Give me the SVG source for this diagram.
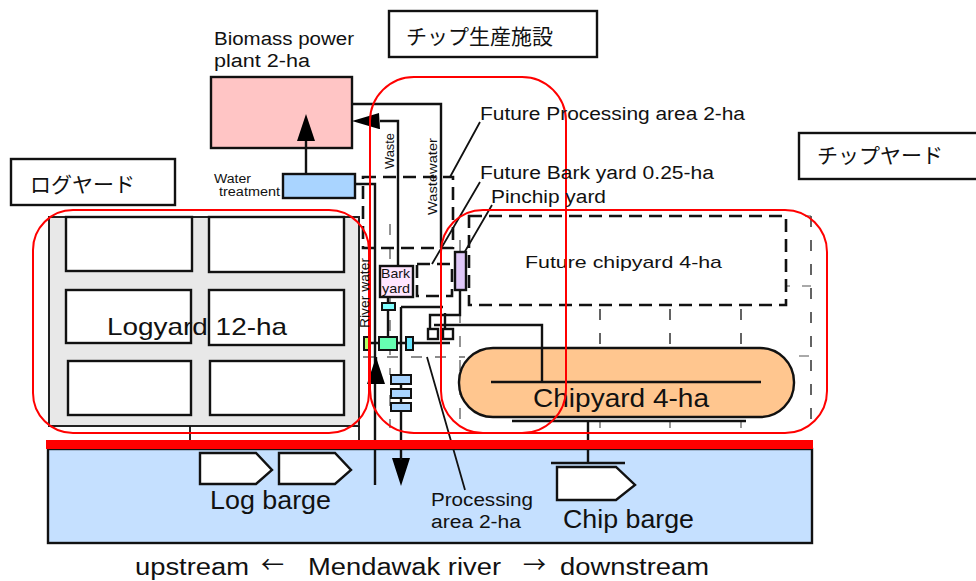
<svg xmlns="http://www.w3.org/2000/svg" width="976" height="581" viewBox="0 0 976 581">
<style>
text{font-family:"Liberation Sans","Noto Sans CJK JP",sans-serif;fill:#111}
.jp{font-family:"Noto Sans CJK JP",sans-serif;font-size:21px}
.ar{font-family:"Noto Sans CJK JP",sans-serif}
.b{fill:#fff;stroke:#111;stroke-width:2.4}
.l{fill:none;stroke:#111;stroke-width:2.4}
.t{fill:none;stroke:#111;stroke-width:1.8}
.d{fill:none;stroke:#111;stroke-width:2.6;stroke-dasharray:13 7}
.g{fill:none;stroke:#666;stroke-width:1.4;stroke-dasharray:11 13}
.k{fill:none;stroke:#222;stroke-width:1.4;stroke-dasharray:11 13}
.s{fill:none;stroke:#555;stroke-width:1.2}
.r{fill:none;stroke:#f00;stroke-width:2}
.a{fill:#000;stroke:none}
</style>
<g id="river"><rect x="48" y="449" width="764" height="94" fill="#c5e0ff" stroke="#111" stroke-width="2.4"/></g>
<g id="logyard">
<rect x="49" y="217" width="310" height="209" fill="#e8e8e8" stroke="#222" stroke-width="2"/>
<rect class="b" x="66" y="217" width="126" height="54"/>
<rect class="b" x="209" y="217" width="135" height="55"/>
<rect class="b" x="66" y="290" width="125" height="53"/>
<rect class="b" x="209" y="290" width="135" height="55"/>
<rect class="b" x="68" y="361" width="123" height="54"/>
<rect class="b" x="210" y="361" width="134" height="54"/>
<text x="107" y="335" font-size="24" textLength="180" lengthAdjust="spacingAndGlyphs">Logyard 12-ha</text>
</g>
<g id="grid">
<path class="k" d="M600 309V347M670 309V347M741 309V347M811 216V428"/>
<path class="s" d="M786 286H790M802 286H811M799 356H809M805 216H811M600 421V428M670 421V428M741 421V428"/>
<path class="g" d="M390 224V375M460 240V428M363 357H465M390 395V428"/>
</g>
<g id="future-processing"><rect class="d" x="363" y="177" width="90" height="71"/></g>
<g id="future-chipyard"><rect class="d" x="469" y="216" width="317" height="89"/>
<text x="525" y="268" font-size="17" textLength="197" lengthAdjust="spacingAndGlyphs">Future chipyard 4-ha</text></g>
<g id="future-bark"><rect class="d" x="417" y="264" width="35" height="32"/></g>
<g id="power-plant"><rect x="211" y="77" width="141" height="71" fill="#ffc5c5" stroke="#111" stroke-width="2.4"/>
<text x="214" y="45" font-size="18" textLength="140" lengthAdjust="spacingAndGlyphs">Biomass power</text>
<text x="214" y="67" font-size="18" textLength="96" lengthAdjust="spacingAndGlyphs">plant 2-ha</text></g>
<g id="water-treatment"><rect x="283" y="174" width="72" height="24" fill="#a9d4ff" stroke="#111" stroke-width="2.4"/>
<text x="214" y="183" font-size="12" textLength="37" lengthAdjust="spacingAndGlyphs">Water</text>
<text x="219" y="196" font-size="12" textLength="61" lengthAdjust="spacingAndGlyphs">treatment</text></g>
<g id="chipyard"><rect x="459" y="348" width="335" height="69" rx="34" fill="#ffc68f" stroke="#111" stroke-width="2.4"/>
<text x="533" y="407" font-size="26" textLength="176" lengthAdjust="spacingAndGlyphs">Chipyard 4-ha</text></g>
<g id="connectors">
<path class="l" d="M352 104H441V248M380 121H398V266M306 174V138M355 184H375V485M376 380V357"/>
<path class="a" d="M306 114L315 141H297ZM352 121L379 113L380 129L379 129ZM376 357L385 384H367ZM401 486L392 458H410Z"/>
<path class="l" d="M388 297V337M401 307H443M401 307V460M460 290V315H430V329M445 313V329M434 325H542V382M491 382H761M512 421H746M588 421V463M551 463H625"/>
<path class="l" d="M369 343H379M397 343H406M413 343H450"/>
<path class="t" d="M190 426V441M359 426V441M427 357L465 490M450 177L480 122M432 264L480 182M460 260L492 205"/>
</g>
<g id="bark-yard"><rect x="380" y="266" width="33" height="31" fill="#ffe5ff" stroke="#111" stroke-width="2.4"/>
<text x="381" y="278" font-size="13" textLength="29" lengthAdjust="spacingAndGlyphs">Bark</text>
<text x="382" y="293" font-size="13" textLength="28" lengthAdjust="spacingAndGlyphs">yard</text></g>
<g id="pinchip"><rect x="455" y="252" width="11" height="38" fill="#e0c8f8" stroke="#111" stroke-width="2.4"/></g>
<g id="units">
<rect x="382" y="303" width="13" height="7" fill="#80ffff" stroke="#111" stroke-width="2"/>
<rect x="379" y="337" width="18" height="13" fill="#66ffb2" stroke="#111" stroke-width="2"/>
<rect x="364" y="337" width="6" height="13" fill="#b3ff66" stroke="#111" stroke-width="2"/>
<rect x="406" y="337" width="7" height="13" fill="#66e8ff" stroke="#111" stroke-width="2"/>
<rect class="b" x="428" y="329" width="10" height="10"/>
<rect class="b" x="443" y="329" width="10" height="10"/>
<rect x="391" y="375" width="20" height="9" fill="#a9d4ff" stroke="#111" stroke-width="2"/>
<rect x="391" y="389" width="20" height="9" fill="#a9d4ff" stroke="#111" stroke-width="2"/>
<rect x="391" y="403" width="20" height="8" fill="#a9d4ff" stroke="#111" stroke-width="2"/>
</g>
<g id="barges">
<path class="b" d="M200 453H256L272 470L256 484H200Z"/>
<path class="b" d="M279 453H335L351 470L335 484H279Z"/>
<path class="b" d="M557 467H616L635 485L616 500H557Z"/>
</g>
<g id="red-bar"><rect x="46" y="440" width="767" height="9" fill="#f00"/></g>
<g id="zones">
<rect class="r" x="33" y="210" width="336" height="223" rx="40"/>
<rect class="r" x="370" y="77" width="196" height="356" rx="44"/>
<rect class="r" x="441" y="210" width="386" height="223" rx="42"/>
</g>
<g id="labels">
<text transform="translate(394 169) rotate(-90)" font-size="13" textLength="36" lengthAdjust="spacingAndGlyphs">Waste</text>
<text transform="translate(437 215) rotate(-90)" font-size="13" textLength="77" lengthAdjust="spacingAndGlyphs">Wastewater</text>
<text transform="translate(369 328) rotate(-90)" font-size="13" textLength="70" lengthAdjust="spacingAndGlyphs">River water</text>
<text x="480" y="120" font-size="18" textLength="265" lengthAdjust="spacingAndGlyphs">Future Processing area 2-ha</text>
<text x="480" y="179" font-size="18" textLength="234" lengthAdjust="spacingAndGlyphs">Future Bark yard 0.25-ha</text>
<text x="491" y="203" font-size="18" textLength="115" lengthAdjust="spacingAndGlyphs">Pinchip yard</text>
<text x="431" y="506" font-size="18" textLength="102" lengthAdjust="spacingAndGlyphs">Processing</text>
<text x="431" y="528" font-size="18" textLength="90" lengthAdjust="spacingAndGlyphs">area 2-ha</text>
<text x="210" y="509" font-size="26" textLength="121" lengthAdjust="spacingAndGlyphs">Log barge</text>
<text x="563" y="528" font-size="25" textLength="131" lengthAdjust="spacingAndGlyphs">Chip barge</text>
<text x="135" y="575" font-size="23" textLength="114" lengthAdjust="spacingAndGlyphs">upstream</text>
<text x="261" y="573" font-size="23" class="ar">←</text>
<text x="308" y="575" font-size="23" textLength="193" lengthAdjust="spacingAndGlyphs">Mendawak river</text>
<text x="523" y="573" font-size="23" class="ar">→</text>
<text x="560" y="575" font-size="23" textLength="149" lengthAdjust="spacingAndGlyphs">downstream</text>
</g>
<g id="label-chip-facility"><rect class="b" x="389" y="11" width="208" height="46"/><text class="jp" x="406" y="44">チップ生産施設</text></g>
<g id="label-logyard"><rect class="b" x="11" y="159" width="164" height="46"/><text class="jp" x="30" y="192">ログヤード</text></g>
<g id="label-chipyard"><rect class="b" x="799" y="133" width="180" height="46"/><text class="jp" x="817" y="163">チップヤード</text></g>
</svg>
